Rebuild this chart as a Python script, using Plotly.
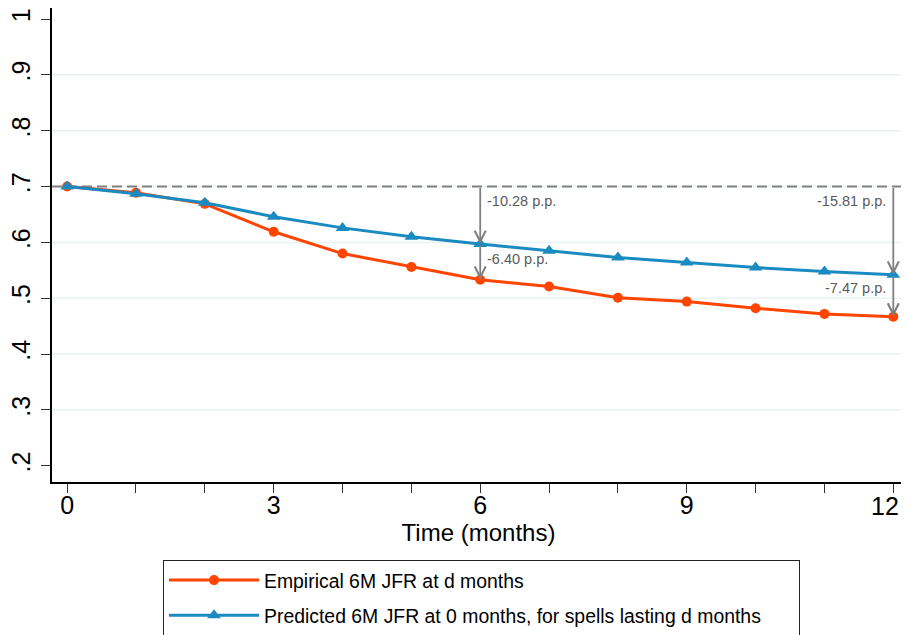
import plotly.graph_objects as go

months = list(range(0, 13))
empirical = [0.700, 0.689, 0.669, 0.619, 0.580, 0.556, 0.533, 0.521, 0.501, 0.494, 0.482, 0.472, 0.467]
predicted = [0.700, 0.687, 0.671, 0.646, 0.626, 0.610, 0.597, 0.585, 0.573, 0.564, 0.555, 0.548, 0.542]
baseline = 0.70
arrow_months = [6, 12]
gap_labels_top = ["-10.28 p.p.", "-15.81 p.p."]
gap_labels_bottom = ["-6.40 p.p.", "-7.47 p.p."]
y_ticks = [0.2, 0.3, 0.4, 0.5, 0.6, 0.7, 0.8, 0.9, 1.0]
y_ticktext = [".2", ".3", ".4", ".5", ".6", ".7", ".8", ".9", "1"]
x_labels = ["0", "", "", "3", "", "", "6", "", "", "9", "", "", "12"]
series_names = ["Empirical 6M JFR at d months",
                "Predicted 6M JFR at 0 months, for spells lasting d months"]

ORANGE = "#FF4500"
BLUE = "#1A8BC0"
GREY = "#808080"
LABEL = "#5A5A5A"
PAD = "\u00a0" * 6  # widens legend box to match reference

# the last tick label sits at the right edge; draw it as an annotation nudged inward
last_label = x_labels[-1]
tick_text = x_labels[:-1] + [""]

fig = go.Figure()
fig.add_trace(go.Scatter(
    x=months, y=empirical, mode="lines+markers",
    name=series_names[0],
    line=dict(color=ORANGE, width=3),
    marker=dict(symbol="circle", size=10, color=ORANGE),
    legendgroup="a"))
fig.add_trace(go.Scatter(
    x=months, y=predicted, mode="lines+markers",
    name=series_names[1] + PAD,
    line=dict(color=BLUE, width=3),
    marker=dict(symbol="triangle-up", size=12, color=BLUE),
    legendgroup="b"))

shapes = []
for g in y_ticks[1:-1]:
    shapes.append(dict(type="line", xref="paper", x0=0, x1=1, yref="y", y0=g, y1=g,
                       line=dict(color="#EAF2F3", width=1.5), layer="below"))
shapes.append(dict(type="line", xref="paper", x0=0, x1=1, yref="y", y0=baseline, y1=baseline,
                   line=dict(color=GREY, width=2, dash="10px,5px"), layer="below"))

annotations = []
for i, m in enumerate(arrow_months):
    p = predicted[m]
    e = empirical[m]
    for tip, tail in ((p, baseline), (e, p)):
        annotations.append(dict(x=m, y=tip, ax=m, ay=tail, xref="x", yref="y", axref="x", ayref="y",
                                showarrow=True, arrowhead=5, arrowsize=1.2, arrowwidth=1.8,
                                arrowcolor=GREY, text=""))
    left = m < 12
    anchor = "left" if left else "right"
    shift = 5 if left else -5
    annotations.append(dict(x=m, y=baseline, xref="x", yref="y", text=gap_labels_top[i],
                            showarrow=False, xanchor=anchor, yanchor="top", xshift=shift, yshift=-4,
                            font=dict(size=14.5, color=LABEL)))
    annotations.append(dict(x=m, y=p, xref="x", yref="y", text=gap_labels_bottom[i],
                            showarrow=False, xanchor=anchor, yanchor="top", xshift=shift,
                            yshift=-5 if left else -3,
                            font=dict(size=14.5, color=LABEL)))

annotations.append(dict(x=months[-1], y=0, xref="x", yref="paper", text=last_label,
                        showarrow=False, xanchor="right", yanchor="middle", xshift=8, yshift=-24,
                        font=dict(size=25, color="black")))

fig.update_layout(
    width=901, height=627,
    margin=dict(l=44, r=4, t=0, b=153, autoexpand=False),
    paper_bgcolor="white", plot_bgcolor="white",
    font=dict(family="Liberation Sans, Arial, sans-serif", color="black"),
    shapes=shapes, annotations=annotations,
    showlegend=True,
    legend=dict(x=(163 - 52) / 853, y=-(560 - 482) / 474, xanchor="left", yanchor="top",
                bordercolor="#222222", borderwidth=1, bgcolor="white",
                font=dict(size=19.4), itemwidth=90, tracegroupgap=7,
                traceorder="grouped"),
    xaxis=dict(range=[-0.22, 12.17], tickmode="array", tickvals=months, ticktext=tick_text,
               ticks="outside", ticklen=9, tickcolor="#333333", tickwidth=1.2,
               showline=True, linecolor="black", linewidth=1.5, showgrid=False, zeroline=False,
               tickfont=dict(size=25), automargin=False, ticklabelstandoff=-9,
               title=dict(text="Time (months)", font=dict(size=24), standoff=0)),
    yaxis=dict(range=[0.171, 1.0197], tickmode="array", tickvals=y_ticks, ticktext=y_ticktext,
               ticks="outside", ticklen=9, tickcolor="#333333", tickwidth=1.2, tickangle=-90,
               showline=True, linecolor="black", linewidth=1.5, showgrid=False, zeroline=False,
               tickfont=dict(size=25), automargin=False, ticklabelstandoff=1),
)

fig.write_html("out.html")
